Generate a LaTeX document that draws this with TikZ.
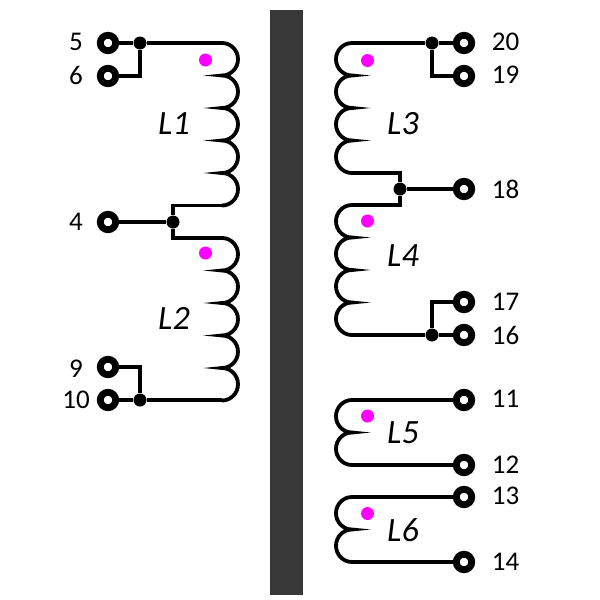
\documentclass[tikz,border=0pt]{standalone}
\usepackage{fontspec}
\setmainfont{Carlito}
\newcommand{\coilright}[1]{\foreach \i in {1,...,#1}{arc[start angle=90, end angle=-90, x radius=16pt, y radius=16.25pt]}}
\newcommand{\coilleft}[1]{\foreach \i in {1,...,#1}{arc[start angle=90, end angle=270, x radius=16pt, y radius=16.25pt]}}
\definecolor{corebar}{HTML}{383838}
\definecolor{poldot}{HTML}{FF00FF}
\tikzset{
    wire/.style = {line width=3.8pt},
    term/.style = {circle, draw, line width=6.8pt, fill=white, minimum size=15.5pt, inner sep=0pt},
    junc/.style = {circle, fill=black, minimum size=13pt, inner sep=0pt},
    pol/.style = {circle, fill=poldot, minimum size=13pt, inner sep=0pt},
    pin/.style = {font=\fontsize{27}{32}\selectfont},
    coilname/.style = {font=\fontsize{34}{40}\selectfont\itshape},
    core/.style = {fill=corebar, minimum width=33pt, minimum height=585pt, inner sep=0pt}
}
\begin{document}
\begin{tikzpicture}[x = 1pt, y = -1pt]
    \useasboundingbox (0,0) rectangle (600,600);
    \node[core] (bar) at (286.5,302.5) {};
    % left side
    \node[term] (t5) at (108,43) {};
    \node[term] (t6) at (108,76) {};
    \node[term] (t4) at (108,222) {};
    \node[term] (t9) at (108,367) {};
    \node[term] (t10) at (108,400) {};
    \node[junc] (j5) at (140,43) {};
    \node[junc] (j4) at (173,222) {};
    \node[junc] (j10) at (140,400) {};
    \coordinate (L1a) at (222,43);
    \coordinate (L1b) at (222,205.5);
    \coordinate (L2a) at (222,238);
    \coordinate (L2b) at (222,400);
    \draw[wire] (L1a) \coilright{5};
    \draw[wire] (L2a) \coilright{5};
    \draw[wire] (t5) -- (j5) -- (L1a);
    \draw[wire] (j5) |- (t6);
    \draw[wire] (t4) -- (j4);
    \draw[wire] (L1b) -| (j4);
    \draw[wire] (L2a) -| (j4);
    \draw[wire] (t10) -- (j10) -- (L2b);
    \draw[wire] (j10) |- (t9);
    % right side
    \node[term] (t20) at (464,43) {};
    \node[term] (t19) at (464,76) {};
    \node[term] (t18) at (464,189) {};
    \node[term] (t17) at (464,302) {};
    \node[term] (t16) at (464,335) {};
    \node[term] (t11) at (464,400) {};
    \node[term] (t12) at (464,465) {};
    \node[term] (t13) at (464,497) {};
    \node[term] (t14) at (464,562) {};
    \node[junc] (j20) at (432,43) {};
    \node[junc] (j18) at (400,189) {};
    \node[junc] (j16) at (432,335) {};
    \coordinate (L3a) at (352,43);
    \coordinate (L3b) at (352,173);
    \coordinate (L4a) at (352,205);
    \coordinate (L4b) at (352,335);
    \coordinate (L5a) at (352,400);
    \coordinate (L5b) at (352,465);
    \coordinate (L6a) at (352,497);
    \coordinate (L6b) at (352,562);
    \draw[wire] (L3a) \coilleft{4};
    \draw[wire] (L4a) \coilleft{4};
    \draw[wire] (L5a) \coilleft{2};
    \draw[wire] (L6a) \coilleft{2};
    \draw[wire] (L3a) -- (j20) -- (t20);
    \draw[wire] (j20) |- (t19);
    \draw[wire] (t18) -- (j18);
    \draw[wire] (L3b) -| (j18);
    \draw[wire] (L4a) -| (j18);
    \draw[wire] (L4b) -- (j16) -- (t16);
    \draw[wire] (j16) |- (t17);
    \draw[wire] (L5a) -- (t11);
    \draw[wire] (L5b) -- (t12);
    \draw[wire] (L6a) -- (t13);
    \draw[wire] (L6b) -- (t14);
    % polarity dots
    \node[pol] (p1) at (205.5,60) {};
    \node[pol] (p2) at (205.5,253) {};
    \node[pol] (p3) at (367.5,60.5) {};
    \node[pol] (p4) at (367.5,221) {};
    \node[pol] (p5) at (367.5,416) {};
    \node[pol] (p6) at (367.5,513.5) {};
    % labels
    \node[pin] (n5) at (76,42) {5};
    \node[pin] (n6) at (76,75) {6};
    \node[pin] (n4) at (76,222) {4};
    \node[pin] (n9) at (76,369) {9};
    \node[pin] (n10) at (76,400) {10};
    \node[pin] (n20) at (505.5,42) {20};
    \node[pin] (n19) at (505.5,75) {19};
    \node[pin] (n18) at (505.5,189) {18};
    \node[pin] (n17) at (505.5,302) {17};
    \node[pin] (n16) at (505.5,335) {16};
    \node[pin] (n11) at (505.5,399) {11};
    \node[pin] (n12) at (505.5,465) {12};
    \node[pin] (n13) at (505.5,496) {13};
    \node[pin] (n14) at (505.5,562) {14};
    \node[coilname] (nL1) at (174,124) {L1};
    \node[coilname] (nL2) at (174,318) {L2};
    \node[coilname] (nL3) at (403,124) {L3};
    \node[coilname] (nL4) at (403,256) {L4};
    \node[coilname] (nL5) at (403,433) {L5};
    \node[coilname] (nL6) at (403,530) {L6};
\end{tikzpicture}
\end{document}
